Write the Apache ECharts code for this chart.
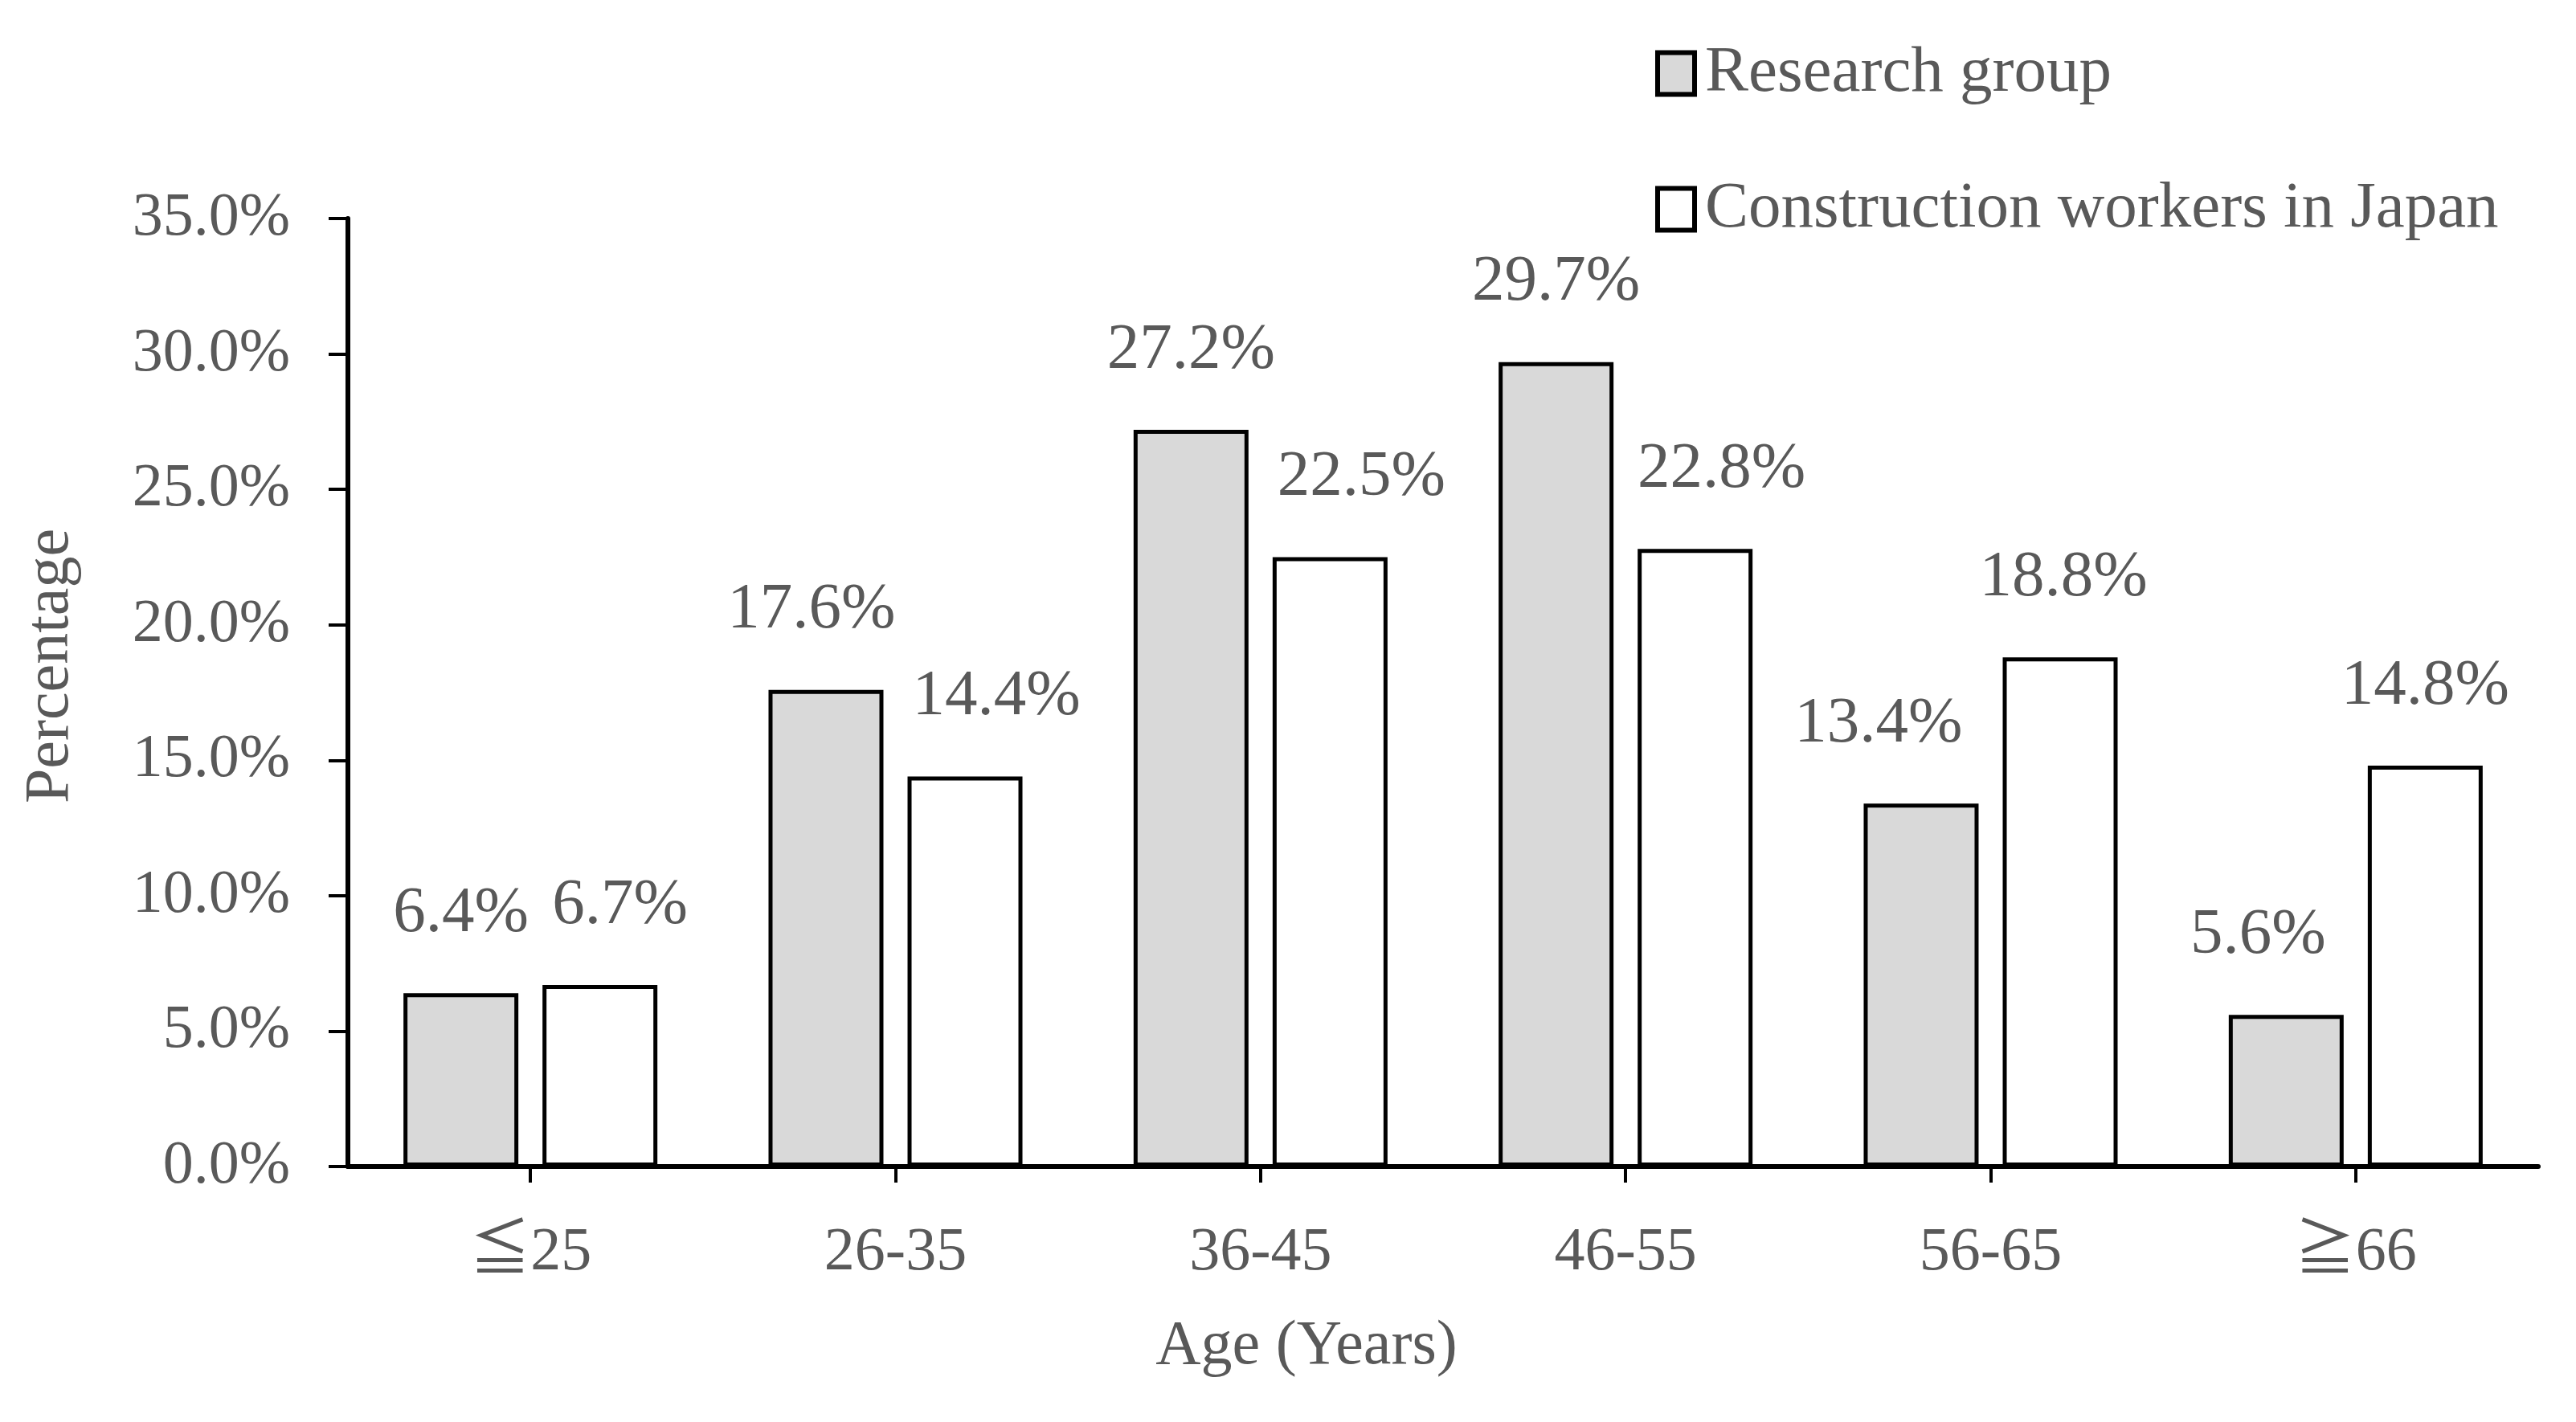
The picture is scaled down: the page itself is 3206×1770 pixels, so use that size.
<!DOCTYPE html>
<html>
<head>
<meta charset="utf-8">
<script src="https://cdn.jsdelivr.net/npm/echarts@6/dist/echarts.min.js"></script>
<style>
html,body{margin:0;padding:0;background:#fff;}
#chart{width:3206px;height:1770px;}
</style>
</head>
<body>
<div id="chart"></div>
<script>
const categories = ['≦25', '26-35', '36-45', '46-55', '56-65', '≧66'];
const researchGroup = [6.4, 17.6, 27.2, 29.7, 13.4, 5.6];
const constructionWorkers = [6.7, 14.4, 22.5, 22.8, 18.8, 14.8];
const yTicks = [0, 5, 10, 15, 20, 25, 30, 35];
const seriesNames = ['Research group', 'Construction workers in Japan'];
// horizontal nudges of the value labels (as placed in the original figure)
const researchLabelShift = [0, -18, 0, 0, -53, -35];
const constructionLabelShift = [25, 39, 39, 33, 4, 0];

const FONT = '"Liberation Serif", "Noto Sans CJK JP", serif';
const TXT = '#595959';
const FS = 76;

const chart = echarts.init(document.getElementById('chart'));

function barSeries(name, values, shifts, fill) {
  return {
    name: name,
    type: 'bar',
    data: values.map((v, i) => ({ value: v, label: { offset: [shifts[i], 0] } })),
    barWidth: 143,
    barGap: '21%',
    itemStyle: { color: fill, borderColor: '#000', borderWidth: 5 },
    label: {
      show: true,
      position: 'top',
      distance: 58,
      formatter: p => p.value.toFixed(1) + '%',
      color: TXT,
      fontFamily: FONT,
      fontSize: 81
    }
  };
}

chart.setOption({
  backgroundColor: '#fff',
  animation: false,
  textStyle: { fontFamily: FONT },
  legend: {
    orient: 'vertical',
    left: 2055,
    top: 46,
    itemWidth: 46,
    itemHeight: 52,
    itemGap: 88,
    icon: 'rect',
    itemStyle: { borderColor: '#000', borderWidth: 6 },
    textStyle: { color: TXT, fontFamily: FONT, fontSize: 81, padding: [0, 0, 0, 8] },
    data: seriesNames
  },
  grid: { left: 433, right: 47, top: 272, bottom: 318, containLabel: false },
  xAxis: {
    type: 'category',
    data: categories,
    name: 'Age (Years)',
    nameLocation: 'middle',
    nameGap: 186,
    nameTextStyle: { color: TXT, fontFamily: FONT, fontSize: 78, padding: [0, 340, 0, 0] },
    axisLine: { lineStyle: { color: '#000', width: 6 } },
    axisTick: { show: true, alignWithLabel: true, length: 20, lineStyle: { color: '#000', width: 4 } },
    axisLabel: { color: TXT, fontFamily: FONT, fontSize: FS, margin: 70 }
  },
  yAxis: {
    type: 'value',
    min: yTicks[0],
    max: yTicks[yTicks.length - 1],
    interval: 5,
    name: 'Percentage',
    nameLocation: 'middle',
    nameGap: 330,
    nameTextStyle: { color: TXT, fontFamily: FONT, fontSize: 78, padding: [0, 0, 0, 66] },
    axisLine: { show: true, lineStyle: { color: '#000', width: 6 } },
    axisTick: { show: true, length: 24, lineStyle: { color: '#000', width: 4 } },
    splitLine: { show: false },
    axisLabel: {
      color: TXT, fontFamily: FONT, fontSize: FS, margin: 72,
      formatter: v => v.toFixed(1) + '%'
    }
  },
  series: [
    barSeries(seriesNames[0], researchGroup, researchLabelShift, '#d9d9d9'),
    barSeries(seriesNames[1], constructionWorkers, constructionLabelShift, '#ffffff')
  ]
});
</script>
</body>
</html>
